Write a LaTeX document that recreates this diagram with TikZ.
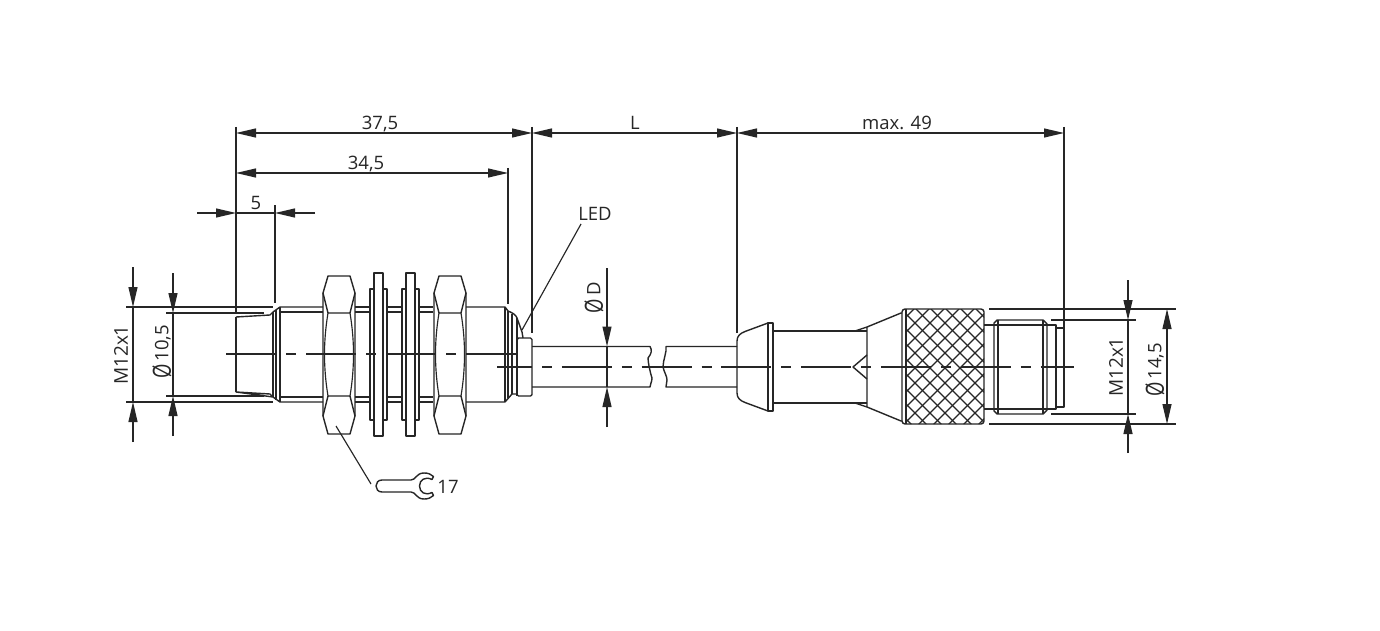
\documentclass[tikz,border=0pt]{standalone}
\usepackage{fontspec}
\setmainfont{Open Sans}
\usetikzlibrary{arrows.meta}
\tikzset{
  part/.style={line width=1.4pt,color=black!85,line join=round},
  thin part/.style={line width=1.15pt,color=black!85},
  dimline/.style={line width=1.15pt,color=black!85},
  tipb/.style={{Triangle[length=20pt,width=9pt]}-{Triangle[length=20pt,width=9pt]}},
  arr/.style={dimline,-{Triangle[length=20pt,width=9pt]}},
  axisline/.style={line width=1.15pt,color=black!85},
  lbl/.style={inner sep=0pt,font=\fontsize{18.5}{18.5}\selectfont,text=black!85},
  lblv/.style={inner sep=0pt,font=\fontsize{19}{19}\selectfont,text=black!85,rotate=90},
}
\newcommand{\dia}{\raisebox{-2.5pt}{\scalebox{1}[1.35]{Ø}}}
\newcommand{\hexnut}[1]{%
  \begin{scope}[xshift=#1pt]
    \draw[part] (0,293) -- (5,276) -- (27,276) -- (32,293) -- (32,416) -- (27,434) -- (5,434) -- (0,416) -- cycle;
    \draw[part] (0,293) -- (5,313) -- (27,313) -- (32,293);
    \draw[part] (0,416) -- (5,396) -- (27,396) -- (32,416);
    \draw[thin part] (5,313) .. controls (2.5,328) and (1.5,342) .. (1.5,354) .. controls (1.5,367) and (2.5,381) .. (5,396);
    \draw[thin part] (27,313) .. controls (29.5,328) and (30.5,342) .. (30.5,354) .. controls (30.5,367) and (29.5,381) .. (27,396);
  \end{scope}}
\newcommand{\washer}[1]{%
  \begin{scope}[xshift=#1pt]
    \draw[part] (0,289) rectangle (17,420);
    \draw[part,fill=white] (4,273) rectangle (13,436);
  \end{scope}}
\begin{document}
\begin{tikzpicture}[x=1pt,y=-1pt]
\useasboundingbox[fill=white] (0,0) rectangle (1380,631);

% ---- sensor body
\draw[part] (236,317) -- (270,315) -- (273,312);
\draw[part] (273,397) -- (270,394) -- (236,392) -- cycle;
\draw[part] (236,317) -- (236,392);
\draw[part] (273,312) -- (273,397);
\draw[part] (276,310) -- (276,400);
\draw[part] (280,307) -- (280,402);
\draw[part] (273,312) -- (280,307) -- (323,307);
\draw[part] (273,397) -- (280,402) -- (323,402);
\draw[thin part] (280,312) -- (323,312) (280,397) -- (323,397);
\foreach \a/\b in {355/370,387/402,418/433}{
  \draw[part] (\a,307) -- (\b,307) (\a,402) -- (\b,402);
  \draw[thin part] (\a,312) -- (\b,312) (\a,397) -- (\b,397);
}
\draw[part] (466,307) -- (505,307) -- (508,311) .. controls (513,313) and (516,315) .. (517,318) -- (522,332) -- (523,338);
\draw[part] (466,402) -- (505,402) -- (512,394) -- (517,394);
\draw[part] (505,307) -- (505,402);
\draw[part] (508,311) -- (508,398);
\draw[part] (512,314) -- (512,394);
\draw[part] (517,318) -- (517,396);
\draw[part,rounded corners=1.5pt] (517,338) -- (532,338) -- (532,396) -- (517,396) -- cycle;
\hexnut{323}
\hexnut{434}
\washer{370}
\washer{402}

% ---- cable
\draw[part] (532,346.5) -- (650,346.5) .. controls (652,350) and (652,353) .. (648,358) .. controls (648,362) and (650,372) .. (652,378) .. controls (652,382) and (650,384) .. (650,387) -- (532,387);
\draw[part] (737,346.5) -- (666,346.5) .. controls (667,352) and (663,360) .. (663,367) .. controls (664,372) and (667,376) .. (667,380) -- (666,387) -- (737,387);

% ---- connector boot
\draw[part] (768,323) -- (745,331.5) .. controls (740,333.5) and (737,336) .. (737,341) -- (737,393) .. controls (737,398) and (740,400.5) .. (745,402.5) -- (768,411);
\draw[part] (768,323) -- (773,323) -- (773,411) -- (768,411) -- cycle;
\draw[part] (773,331) -- (867,331) (773,403) -- (867,403);
\draw[part] (855,331) -- (867,327) -- (867,407) -- (855,403);
\draw[part] (867,327) -- (901,313) -- (902,313);
\draw[part] (867,407) -- (901,421) -- (902,421);
\draw[part] (867,355) -- (853,367) -- (867,379);

% ---- knurled nut
\begin{scope}
  \clip[rounded corners=3pt] (906,309) rectangle (984,424);
  \foreach \k in {-10,...,14}{
    \draw[line width=1.25pt,color=black!85] ({895+15*\k},303) -- ({895+15*\k+130},433);
    \draw[line width=1.25pt,color=black!85] ({895+15*\k+130},303) -- ({895+15*\k},433);
  }
\end{scope}
\draw[part,rounded corners=3pt] (902,309) rectangle (984,424);
\draw[part] (906,309) -- (906,424);

% ---- plug
\draw[part] (984,325) -- (994,325) (984,409) -- (994,409);
\draw[part] (994,323) -- (997,320) -- (1043,320) -- (1047,324) -- (1047,410) -- (1043,414) -- (997,414) -- (994,411) -- cycle;
\draw[part] (998,320) -- (998,414);
\draw[part] (1043,320) -- (1043,414);
\draw[thin part] (994,325) -- (1047,325) (994,409) -- (1047,409);
\draw[part] (1047,325) -- (1056,325) -- (1056,409) -- (1047,409);
\draw[part] (1056,328) -- (1064,328) -- (1064,407) -- (1056,407);

% ---- axes
\coordinate (ax1a) at (226,354); \coordinate (ax1b) at (518,354);
\coordinate (ax2a) at (497,367); \coordinate (ax2b) at (1074,367);
\draw[axisline,dash pattern=on 50pt off 10pt on 10pt off 10pt] (ax1a) -- (ax1b);
\draw[axisline,dash pattern=on 50pt off 10pt on 10pt off 9.8pt,dash phase=15pt] (ax2a) -- (ax2b);

% ---- extension lines
\coordinate (e1a) at (236,127); \coordinate (e1b) at (236,312);
\coordinate (e2a) at (275,205); \coordinate (e2b) at (275,303);
\coordinate (e3a) at (508,168); \coordinate (e3b) at (508,304);
\coordinate (e4a) at (532,127); \coordinate (e4b) at (532,333);
\coordinate (e5a) at (737,127); \coordinate (e5b) at (737,333);
\coordinate (e6a) at (1064,127); \coordinate (e6b) at (1064,328);
\draw[dimline] (e1a) -- (e1b);
\draw[dimline] (e2a) -- (e2b);
\draw[dimline] (e3a) -- (e3b);
\draw[dimline] (e4a) -- (e4b);
\draw[dimline] (e5a) -- (e5b);
\draw[dimline] (e6a) -- (e6b);
\draw[dimline] (126,307) -- (273,307) (126,402) -- (273,402);
\draw[dimline] (166,313) -- (264,313) (166,396) -- (264,396);
\draw[dimline] (989,309) -- (1176,309) (989,424) -- (1176,424);
\draw[dimline] (1051,320) -- (1136,320) (1051,414) -- (1136,414);

% ---- horizontal dimensions
\draw[dimline,tipb] (236,133) -- (532,133);
\draw[dimline,tipb] (532,133) -- (737,133);
\draw[dimline,tipb] (737,133) -- (1064,133);
\draw[dimline,tipb] (236,173) -- (508,173);
\draw[arr] (197,213) -- (236,213);
\draw[arr] (315,213) -- (275,213);
\draw[dimline] (236,213) -- (275,213);

% ---- vertical dimensions
\draw[arr] (133,267) -- (133,307);
\draw[arr] (133,442) -- (133,402);
\draw[dimline] (133,307) -- (133,402);
\draw[arr] (173,273) -- (173,313);
\draw[arr] (173,436) -- (173,396);
\draw[dimline] (173,313) -- (173,396);
\draw[arr] (607,268) -- (607,346.5);
\draw[arr] (607,427) -- (607,387);
\draw[dimline] (607,346.5) -- (607,387);
\draw[arr] (1128,280) -- (1128,320);
\draw[arr] (1128,453) -- (1128,414);
\draw[dimline] (1128,320) -- (1128,414);
\draw[dimline,tipb] (1167,309) -- (1167,424);

% ---- leaders and wrench
\coordinate (ledtip) at (522,330); \coordinate (ledend) at (581,224);
\draw[dimline] (ledtip) -- (ledend);
\coordinate (wr1) at (336,426); \coordinate (wr2) at (371,484);
\draw[dimline] (wr1) -- (wr2);
\draw[part] (382,480) -- (411,480) .. controls (416,480) and (416,473) .. (424,473) .. controls (428,473) and (431,474) .. (433.5,476.5) -- (432,479.5) .. controls (425,476) and (419.5,480) .. (419.5,486) .. controls (419.5,492) and (425,496) .. (432,492.5) -- (433.5,495.5) .. controls (431,498) and (428,499) .. (424,499) .. controls (416,499) and (416,492) .. (411,492) -- (382,492) .. controls (374,492) and (374,480) .. (382,480) -- cycle;

% ---- labels
\node[lbl] (t375) at (380,123.5) {37,5};
\node[lbl] (t345) at (366,163.5) {34,5};
\node[lbl] (t5) at (256,202.5) {5};
\node[lbl] (tL) at (635,123) {L};
\node[lbl] (tmax) at (897,123) {max. 49};
\node[lbl] (tled) at (595,214) {LED};
\node[lbl] (t17) at (448,487) {17};
\node[lblv] (tm1) at (121,355) {M12x1};
\node[lbl,rotate=90] (td1) at (162,352) {\dia\,10,5};
\node[lbl,rotate=90] (tdd) at (594,298) {\dia\,D};
\node[lblv] (tm2) at (1116,367) {M12x1};
\node[lbl,rotate=90] (td2) at (1155,370) {\dia\,14,5};
\end{tikzpicture}
\end{document}
